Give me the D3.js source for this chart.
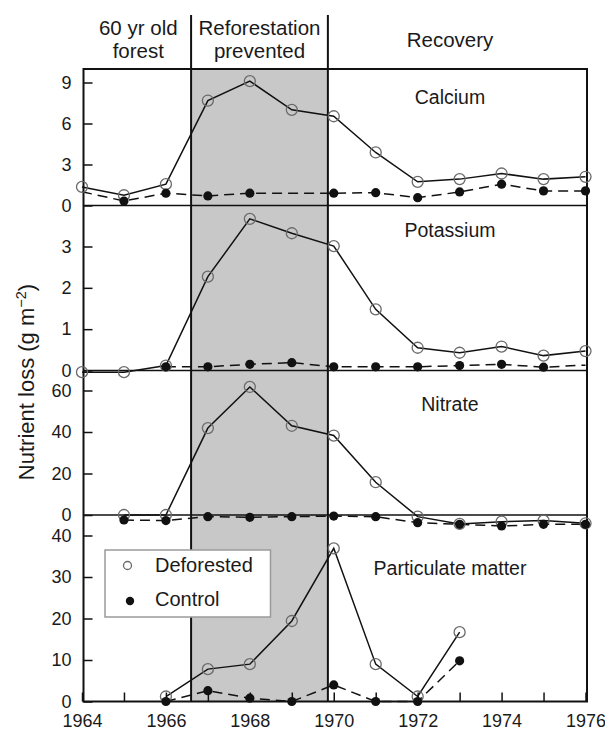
<!DOCTYPE html>
<html>
<head>
<meta charset="utf-8">
<script src="https://cdn.jsdelivr.net/npm/d3@7"></script>
<style>
  body { margin: 0; background: #fff; }
  svg { display: block; }
  text { font-family: "Liberation Sans", Arial, Helvetica, sans-serif; fill: #1a1a1a; }
</style>
</head>
<body>
<svg id="chart" width="605" height="733"></svg>
<script>
// Annual nutrient losses, deforested vs. control watershed
const years = [1964, 1965, 1966, 1967, 1968, 1969, 1970, 1971, 1972, 1973, 1974, 1975, 1976];

const calciumDeforested = [1.36, 0.75, 1.56, 7.68, 9.1, 7.0, 6.53, 3.88, 1.73, 1.93, 2.34, 1.93, 2.1];
const calciumControl    = [1.01, 0.33, 0.9, 0.7, 0.9, null, 0.9, 0.94, 0.57, 0.99, 1.56, 1.07, 1.07];

const potassiumDeforested = [-0.04, -0.04, 0.12, 2.27, 3.67, 3.32, 3.01, 1.48, 0.55, 0.43, 0.58, 0.36, 0.47];
const potassiumControl    = [null, null, 0.09, 0.09, 0.15, 0.19, 0.09, 0.09, 0.09, 0.12, 0.15, 0.08, 0.13];

const nitrateDeforested = [null, 0, 0, 41.9, 61.7, 43, 38.3, 15.8, -0.8, -4.3, -3.2, -2.7, -4];
const nitrateControl    = [null, -2.4, -2.7, -0.8, -1.1, -0.8, -0.5, -0.8, -3.7, -4.5, -5.3, -4.5, -4.5];

const particulateDeforested = [null, null, 1.2, 7.8, 9.0, 19.4, 36.9, 9.0, 1.2, 16.7, null, null, null];
const particulateControl    = [null, null, 0, 2.6, 0.8, 0, 4.0, 0, 0, 9.8, null, null, null];

// control years drawn as line only (no marker)
const calciumControlUnmarked = [1964];
const potassiumControlUnmarked = [1976];

const calciumTicks = [0, 3, 6, 9];
const potassiumTicks = [0, 1, 2, 3];
const nitrateTicks = [0, 20, 40, 60];
const particulateTicks = [0, 10, 20, 30, 40];

const xTickYears = [1964, 1965, 1966, 1967, 1968, 1969, 1970, 1971, 1972, 1973, 1974, 1975, 1976];
const xLabelYears = [1964, 1966, 1968, 1970, 1972, 1974, 1976];

// treatment periods: start of clearing / end of herbicide treatment
const phaseBreaks = [1966.6, 1969.86];
const phaseLabels = [["60 yr old", "forest"], ["Reforestation", "prevented"], ["Recovery"]];

const legendLabels = ["Deforested", "Control"];

// ---- layout ----
const svg = d3.select("#chart");
const frame = { left: 83.5, right: 587, top: 69, bottom: 701.5 };
const headerTop = 15;
const tickFont = 18;

const x = d3.scaleLinear().domain([1964, 1976]).range([82, 585.5]);

const panels = [
  { name: "Calcium", def: calciumDeforested, ctl: calciumControl, ticks: calciumTicks,
    unmarked: calciumControlUnmarked, range: [205.5, 82.5], labelY: 104 },
  { name: "Potassium", def: potassiumDeforested, ctl: potassiumControl, ticks: potassiumTicks,
    unmarked: potassiumControlUnmarked, range: [370.5, 246.5], labelY: 236.5 },
  { name: "Nitrate", def: nitrateDeforested, ctl: nitrateControl, ticks: nitrateTicks,
    unmarked: [], range: [515, 390.5], labelY: 410.5 },
  { name: "Particulate matter", def: particulateDeforested, ctl: particulateControl, ticks: particulateTicks,
    unmarked: [], range: [701.5, 535.5], labelY: 575 }
];
panels.forEach(p => {
  p.y = d3.scaleLinear().domain([p.ticks[0], p.ticks[p.ticks.length - 1]]).range(p.range);
});

// ---- shaded "reforestation prevented" period ----
const shadeX0 = x(phaseBreaks[0]), shadeX1 = x(phaseBreaks[1]);
svg.append("rect")
  .attr("x", shadeX0).attr("y", frame.top)
  .attr("width", shadeX1 - shadeX0).attr("height", frame.bottom - frame.top)
  .attr("fill", "#c8c8c8");

// ---- panel separators (zero lines) ----
panels.slice(0, 3).forEach(p => {
  svg.append("line")
    .attr("x1", frame.left).attr("x2", frame.right)
    .attr("y1", p.y(0)).attr("y2", p.y(0))
    .attr("stroke", "#111").attr("stroke-width", 1.5);
});

// ---- period dividers through header and plot ----
phaseBreaks.forEach(b => {
  svg.append("line")
    .attr("x1", x(b)).attr("x2", x(b))
    .attr("y1", headerTop).attr("y2", frame.bottom)
    .attr("stroke", "#111").attr("stroke-width", 2);
});

// ---- frame ----
svg.append("rect")
  .attr("x", frame.left).attr("y", frame.top)
  .attr("width", frame.right - frame.left).attr("height", frame.bottom - frame.top)
  .attr("fill", "none").attr("stroke", "#111").attr("stroke-width", 2);

// ---- axes ----
panels.forEach(p => {
  const ax = svg.append("g")
    .attr("transform", `translate(${frame.left},0)`)
    .call(d3.axisLeft(p.y).tickValues(p.ticks).tickFormat(d3.format("d"))
      .tickSizeInner(-9).tickSizeOuter(0).tickPadding(12));
  ax.select(".domain").remove();
  ax.selectAll(".tick line").attr("stroke", "#111").attr("stroke-width", 1.5);
  ax.selectAll(".tick text").attr("font-size", tickFont).attr("fill", "#1a1a1a")
    .style("font-family", "'Liberation Sans', Arial, sans-serif");
});

const xAxis = svg.append("g")
  .attr("transform", `translate(0,${frame.bottom})`)
  .call(d3.axisBottom(x).tickValues(xTickYears).tickSizeInner(-9).tickSizeOuter(0).tickPadding(12.5)
    .tickFormat(d => xLabelYears.includes(d) ? String(d) : ""));
xAxis.select(".domain").remove();
xAxis.selectAll(".tick line").attr("stroke", "#111").attr("stroke-width", 1.5);
xAxis.selectAll(".tick text").attr("font-size", tickFont).attr("fill", "#1a1a1a")
  .style("font-family", "'Liberation Sans', Arial, sans-serif");

// ---- series ----
panels.forEach(p => {
  const defPts = years.map((yr, i) => ({ yr, v: p.def[i] })).filter(d => d.v != null);
  const ctlPts = years.map((yr, i) => ({ yr, v: p.ctl[i] })).filter(d => d.v != null);
  const line = d3.line().x(d => x(d.yr)).y(d => p.y(d.v));

  svg.append("path").datum(ctlPts).attr("d", line)
    .attr("fill", "none").attr("stroke", "#111").attr("stroke-width", 1.5)
    .attr("stroke-dasharray", "10,6");
  svg.append("path").datum(defPts).attr("d", line)
    .attr("fill", "none").attr("stroke", "#111").attr("stroke-width", 1.5);

  svg.selectAll(null).data(defPts).enter().append("circle")
    .attr("cx", d => x(d.yr)).attr("cy", d => p.y(d.v)).attr("r", 5.5)
    .attr("fill", "none").attr("stroke", "#6a6a6a").attr("stroke-width", 1.3);
  svg.selectAll(null).data(ctlPts.filter(d => !p.unmarked.includes(d.yr))).enter().append("circle")
    .attr("cx", d => x(d.yr)).attr("cy", d => p.y(d.v)).attr("r", 4.6)
    .attr("fill", "#111");

  svg.append("text")
    .attr("x", 450).attr("y", p.labelY)
    .attr("text-anchor", "middle").attr("font-size", 19.5)
    .text(p.name);
});

// ---- header labels ----
const phaseEdges = [frame.left, shadeX0, shadeX1, frame.right];
const phaseCenters = [ (phaseEdges[0] + phaseEdges[1]) / 2 + 1, (phaseEdges[1] + phaseEdges[2]) / 2, 450 ];
phaseLabels.forEach((lines, i) => {
  const t = svg.append("text").attr("text-anchor", "middle").attr("font-size", 20.5);
  if (lines.length === 2) {
    t.append("tspan").attr("x", phaseCenters[i]).attr("y", 35).text(lines[0]);
    t.append("tspan").attr("x", phaseCenters[i]).attr("y", 58).text(lines[1]);
  } else {
    t.append("tspan").attr("x", phaseCenters[i]).attr("y", 47).text(lines[0]);
  }
});

// ---- y-axis title ----
const yTitle = svg.append("text")
  .attr("transform", "translate(34,382) rotate(-90)")
  .attr("text-anchor", "middle").attr("font-size", 22);
yTitle.append("tspan").text("Nutrient loss (g m");
yTitle.append("tspan").attr("font-size", 14.5).attr("dy", -8.5).text("\u22122");
yTitle.append("tspan").attr("dy", 8.5).text(")");

// ---- legend ----
const lg = svg.append("g");
lg.append("rect").attr("x", 105).attr("y", 550).attr("width", 165.5).attr("height", 67)
  .attr("fill", "#fff").attr("stroke", "#9a9a9a").attr("stroke-width", 1.5);
lg.append("circle").attr("cx", 127.5).attr("cy", 565.5).attr("r", 4)
  .attr("fill", "none").attr("stroke", "#6a6a6a").attr("stroke-width", 1.3);
lg.append("circle").attr("cx", 130).attr("cy", 601).attr("r", 4.2).attr("fill", "#111");
lg.append("text").attr("x", 155).attr("y", 572).attr("font-size", 20).text(legendLabels[0]);
lg.append("text").attr("x", 155).attr("y", 606).attr("font-size", 20).text(legendLabels[1]);
</script>
</body>
</html>
